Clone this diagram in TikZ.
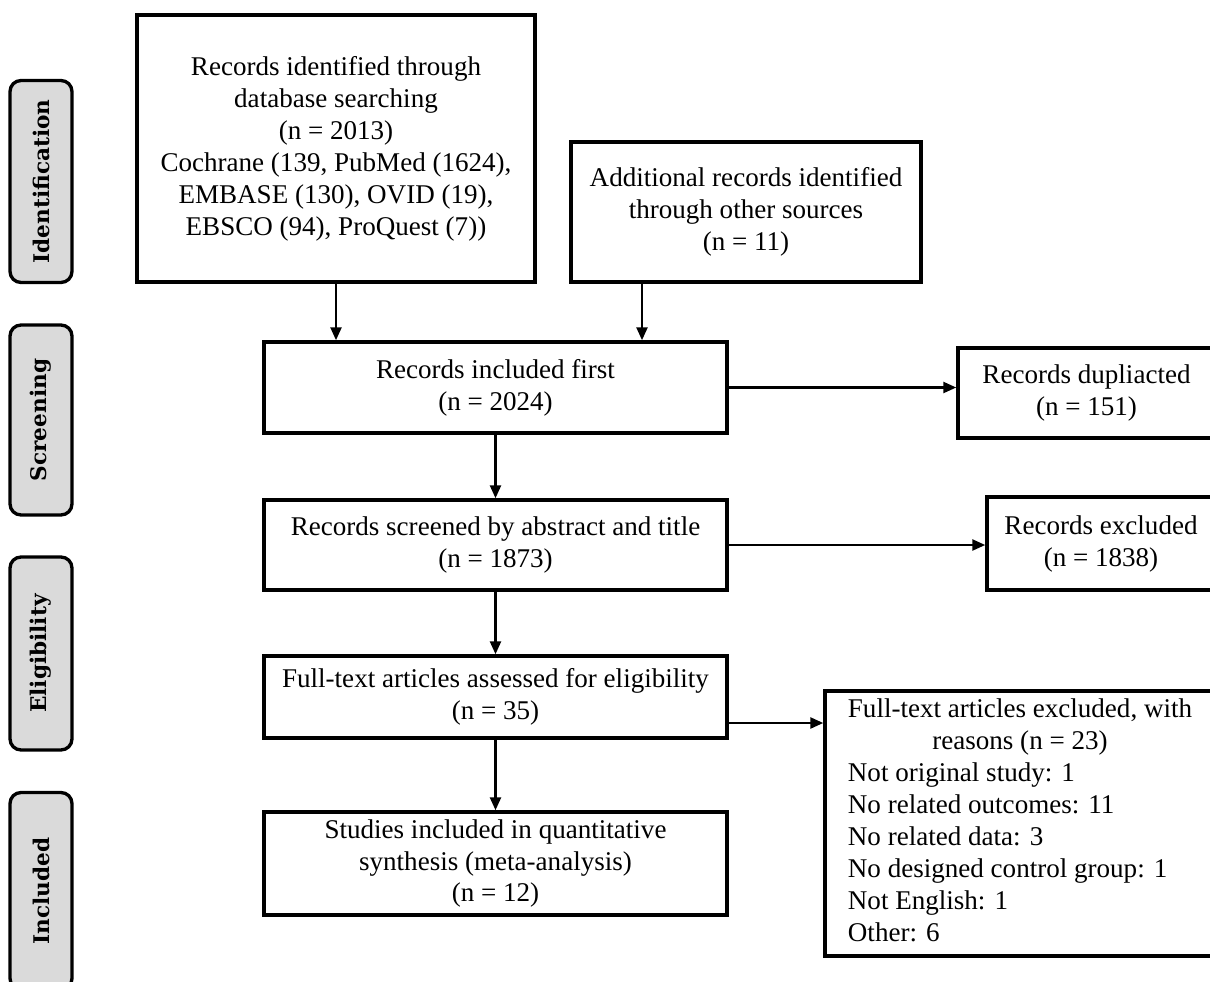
\documentclass[tikz,border=0pt]{standalone}
\usepackage{fontspec}
\setmainfont{Liberation Serif}
\newfontfamily\etiq{DejaVu Serif}
\usetikzlibrary{arrows.meta}
\definecolor{gris}{RGB}{218,218,218}

\begin{document}
\begin{tikzpicture}[x=0.02cm, y=-0.02cm, >={Triangle[length=2.6mm,width=2.2mm]},
  boite/.style={draw, line width=2pt, align=center, inner sep=0pt, font=\fontsize{15.4}{18.2}\selectfont},
  centre/.style={boite, minimum width=9.26cm},
  etape/.style={draw, line width=1.9pt, rounded corners=0.22cm, fill=gris, rotate=90, minimum height=1.24cm, font=\etiq\bfseries\fontsize{12.3}{14}\selectfont},
  fleche/.style={->, line width=1.4pt}]
\useasboundingbox (0,0) rectangle (1210,981);
\foreach \nom/\y/\h in {Identification/181.5/4.04, Screening/420/3.8, Eligibility/653.5/3.86, Included/891/3.94}
  \node[etape, minimum width=\h cm] (\nom) at (41,\y) {\nom};
\node[boite, minimum width=7.96cm, minimum height=5.34cm] (db) at (336,148.5)
  {Records identified through\\ database searching\\ (n = 2013)\\ Cochrane (139, PubMed (1624),\\ EMBASE (130), OVID (19),\\ EBSCO (94), ProQuest (7))};
\node[boite, minimum width=7cm, minimum height=2.8cm] (add) at (746,212)
  {Additional records identified\\ through other sources\\ (n = 11)};
\node[centre, minimum height=1.82cm] (inc) at (495.5,387.5) {Records included first\\ (n = 2024)};
\node[centre, minimum height=1.8cm] (scr) at (495.5,545) {Records screened by abstract and title\\ (n = 1873)};
\node[centre, minimum height=1.64cm] (full) at (495.5,697) {Full-text articles assessed for eligibility\\ (n = 35)};
\node[centre, minimum height=2.06cm] (stud) at (495.5,863.5)
  {Studies included in quantitative\\ synthesis (meta-analysis)\\ (n = 12)};
\node[boite, minimum width=5.14cm, minimum height=1.8cm] (dup) at (1086.5,393) {Records dupliacted\\ (n = 151)};
\node[boite, minimum width=4.56cm, minimum height=1.86cm] (exc) at (1101,543.5) {Records excluded\\ (n = 1838)};
\node[boite, minimum width=7.8cm, minimum height=5.3cm] (reas) at (1020,823.5)
  {\begin{tabular}{@{}l@{}}
   \multicolumn{1}{@{}c@{}}{Full-text articles excluded, with}\\
   \multicolumn{1}{@{}c@{}}{reasons (n = 23)}\\
   Not original study: 1\\ No related outcomes: 11\\ No related data: 3\\
   No designed control group: 1\\ Not English: 1\\ Other: 6
   \end{tabular}};
% connecteurs
\coordinate (c) at (642,0);
\draw[fleche] (db.south) -- (db.south |- inc.north);
\draw[fleche] (add.south -| c) -- (inc.north -| c);
\foreach \a/\b in {inc/scr, scr/full, full/stud}
  \draw[fleche] (\a.south) -- (\b.north);
\draw[fleche] (inc.east) -- (inc.east -| dup.west);
\draw[fleche] (scr.east) -- (scr.east -| exc.west);
\draw[fleche] ([yshift=-0.52cm]full.east) coordinate (f) -- (f -| reas.west);
\end{tikzpicture}
\end{document}
